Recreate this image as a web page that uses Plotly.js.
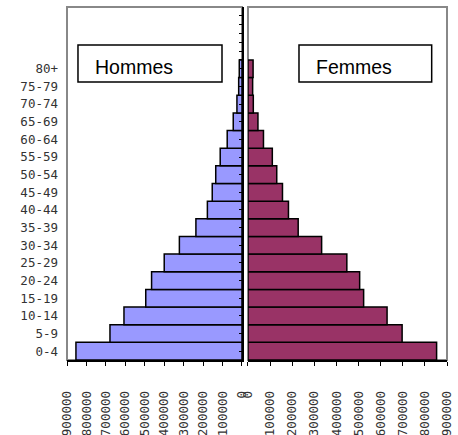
<!DOCTYPE html>
<html>
<head>
<meta charset="utf-8">
<script src="https://cdn.plot.ly/plotly-3.0.1.min.js"></script>
<style>html,body{margin:0;padding:0;background:#fff;}#chart{width:458px;height:435px;}</style>
</head>
<body>
<div id="chart"></div>
<script>
const ages = ['0-4','5-9','10-14','15-19','20-24','25-29','30-34','35-39','40-44','45-49','50-54','55-59','60-64','65-69','70-74','75-79','80+'];
const hommes = [854000,679000,607000,495000,465000,400000,322000,237000,178000,153000,135000,112000,76000,45000,26000,17000,14000];
const femmes = [853000,697000,629000,523000,505000,447000,333000,227000,183000,156000,130000,110000,70000,45000,24000,21000,23000];
const xTicks = [0,100000,200000,300000,400000,500000,600000,700000,800000,900000];

const nSlots = 20; // category slots shown on the y axis (3 empty above 80+)
const midTicks = [];
for (let i = 0; i < ages.length; i++) midTicks.push(i);
for (let v = ages.length - 0.5; v <= nSlots - 0.5; v += 0.5) midTicks.push(v);

const monoTick = {family: 'DejaVu Sans Mono, monospace', size: 12.5, color: '#333'};

const traces = [
  {type: 'bar', orientation: 'h', name: 'Hommes', x: hommes, y: ages, xaxis: 'x', yaxis: 'y',
   marker: {color: '#9999FF', line: {color: '#000', width: 1.5}}, hoverinfo: 'x+y'},
  {type: 'bar', orientation: 'h', name: 'Femmes', x: femmes, y: ages, xaxis: 'x2', yaxis: 'y',
   marker: {color: '#993366', line: {color: '#000', width: 1.5}}, hoverinfo: 'x+y'},
  // invisible helper so the centre tick axis gets drawn
  {type: 'scatter', mode: 'markers', x: [0], y: [0], xaxis: 'x', yaxis: 'y2',
   marker: {opacity: 0}, hoverinfo: 'skip', showlegend: false}
];

const xCommon = {
  tickvals: xTicks, tickformat: 'd', tickangle: -90, ticks: 'outside', ticklen: 4,
  tickcolor: '#000', tickwidth: 1, showline: true, linecolor: '#000', linewidth: 2,
  showgrid: false, zeroline: false, tickfont: monoTick, ticklabelstandoff: 20, fixedrange: true
};

const layout = {
  width: 458, height: 435,
  margin: {l: 67, r: 11, t: 7, b: 75},
  paper_bgcolor: '#fff', plot_bgcolor: '#fff',
  showlegend: false, bargap: 0,
  xaxis: Object.assign({}, xCommon, {domain: [0, 0.4605], range: [900000, 0], anchor: 'y'}),
  xaxis2: Object.assign({}, xCommon, {domain: [0.4763, 1], range: [0, 900000], anchor: 'y'}),
  yaxis: {
    type: 'category', categoryorder: 'array', categoryarray: ages,
    range: [-0.5, nSlots - 0.5], anchor: 'x', showgrid: false, zeroline: false,
    showline: false, ticks: '', ticklabelstandoff: 8,
    tickfont: {family: 'DejaVu Sans Mono, monospace', size: 12.5, color: '#333'}
  },
  yaxis2: {
    overlaying: 'y', anchor: 'x', side: 'right',
    range: [-0.5, nSlots - 0.5], tickvals: midTicks, ticks: 'inside', ticklen: 3,
    tickcolor: '#000', showticklabels: false, showline: true, linecolor: '#000', linewidth: 2,
    showgrid: false, zeroline: false
  },
  shapes: [
    {type: 'rect', xref: 'paper', yref: 'paper', x0: 0, x1: 0.4605, y0: 0, y1: 1,
     line: {color: '#888', width: 2}, layer: 'below'},
    {type: 'rect', xref: 'paper', yref: 'paper', x0: 0.4763, x1: 1, y0: 0, y1: 1,
     line: {color: '#888', width: 2}, layer: 'below'},
    {type: 'rect', xref: 'paper', yref: 'paper', x0: 0.0289, x1: 0.4079, y0: 0.7875, y1: 0.8924,
     line: {color: '#000', width: 1.5}, fillcolor: '#fff', layer: 'above'},
    {type: 'rect', xref: 'paper', yref: 'paper', x0: 0.6105, x1: 0.9597, y0: 0.7875, y1: 0.8924,
     line: {color: '#000', width: 1.5}, fillcolor: '#fff', layer: 'above'}
  ],
  annotations: [
    {text: 'Hommes', xref: 'paper', yref: 'paper', x: 0.0684, y: 0.83, xanchor: 'left', yanchor: 'middle',
     showarrow: false, font: {family: 'Liberation Sans, Arial, sans-serif', size: 19.5, color: '#000'}},
    {text: 'Femmes', xref: 'paper', yref: 'paper', x: 0.65, y: 0.83, xanchor: 'left', yanchor: 'middle',
     showarrow: false, font: {family: 'Liberation Sans, Arial, sans-serif', size: 19.5, color: '#000'}}
  ]
};

Plotly.newPlot('chart', traces, layout, {displayModeBar: false, staticPlot: true});
</script>
</body>
</html>
